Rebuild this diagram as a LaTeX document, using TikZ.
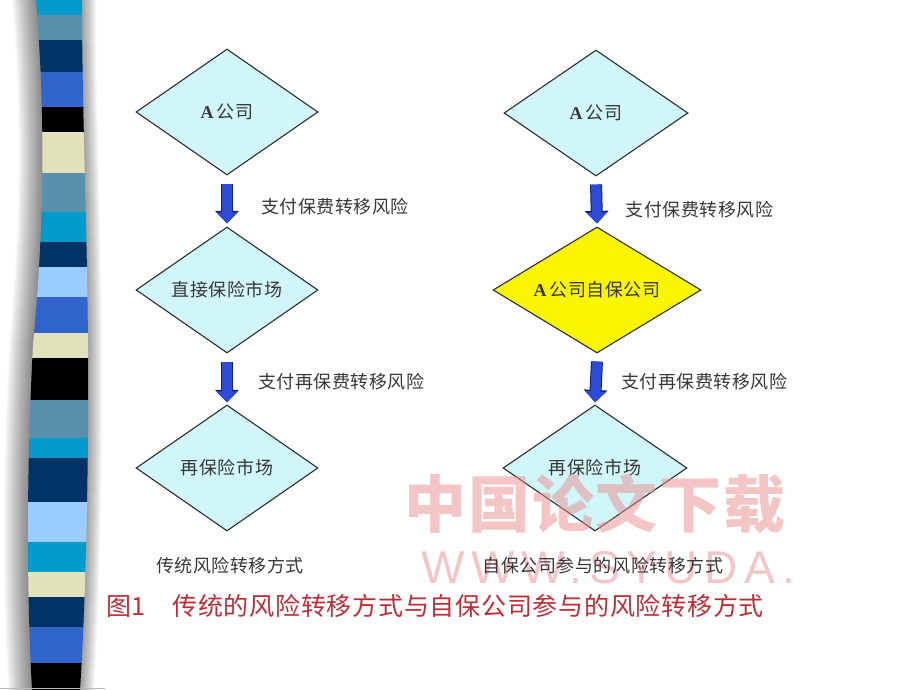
\documentclass[tikz,border=0pt]{standalone}
\usepackage{fontspec}
\setmainfont{Liberation Serif}
\newfontfamily\cjk{Noto Sans CJK SC}[LetterSpace=3]
\newfontfamily\wwwfont{Liberation Sans}[LetterSpace=15]
\usetikzlibrary{shapes.geometric, arrows.meta, positioning}

\definecolor{boxfill}{RGB}{208,246,250}
\definecolor{boxyellow}{RGB}{250,246,0}
\definecolor{boxline}{RGB}{45,45,45}
\definecolor{labelgray}{RGB}{55,55,55}
\definecolor{payblue}{RGB}{45,75,215}
\definecolor{paynavy}{RGB}{15,30,120}
\definecolor{capred}{RGB}{190,45,55}
\definecolor{wmpink}{RGB}{232,140,140}
\definecolor{bandcyan}{RGB}{0,155,205}
\definecolor{bandsteel}{RGB}{88,145,172}
\definecolor{bandnavy}{RGB}{0,52,102}
\definecolor{bandroyal}{RGB}{50,100,205}
\definecolor{bandbeige}{RGB}{225,225,188}
\definecolor{bandlight}{RGB}{153,204,255}

\newcommand{\stripeoutline}{(36,0) .. controls (45,110) and (45,220) .. (33,345) .. controls (27,460) and (26,580) .. (32,690) -- (80,690) .. controls (86,600) and (89,450) .. (88,345) .. controls (87,220) and (82,110) .. (82,0) -- cycle}

\begin{document}
\begin{tikzpicture}[x=1pt, y=-1pt,
    box/.style={diamond, draw=boxline, line width=1.1pt, fill=boxfill, aspect=1.5, inner sep=1pt,
        text=labelgray, font=\cjk\fontsize{18}{20}\selectfont},
    pay/.style={line width=10pt, draw=payblue, shorten <=1pt, -{Triangle[width=20pt,length=11pt]},
        preaction={draw=paynavy, line width=12pt, -{Triangle[width=23pt,length=12.5pt]}}},
    paylabel/.style={inner sep=0pt, text=labelgray, font=\cjk\fontsize{18}{20}\selectfont},
    watermark/.style={inner sep=0pt, text=wmpink, text opacity=0.5}]
        \useasboundingbox (0,0) rectangle (920,690);

        %stripe bar
        \foreach \d in {1,...,24} \fill[black, opacity=0.022, shift={(-\d,0)}] \stripeoutline;
        \foreach \d in {1,...,14} \fill[black, opacity=0.032, shift={(\d,0)}] \stripeoutline;
        \begin{scope}
            \clip \stripeoutline;
            \foreach \ya/\yb/\c in {0/15/bandcyan, 15/40/bandsteel, 40/72/bandnavy, 72/107/bandroyal,
                107/132/black, 132/173/bandbeige, 173/212/bandsteel, 212/242/bandcyan, 242/267/bandnavy,
                267/297/bandlight, 297/333/bandroyal, 333/358/bandbeige, 358/400/black, 400/438/bandsteel,
                438/458/bandcyan, 458/502/bandnavy, 502/542/bandlight, 542/572/bandcyan, 572/597/bandbeige,
                597/627/bandnavy, 627/663/bandroyal, 663/690/black}
                \fill[\c] (0,\ya) rectangle (100,\yb);
        \end{scope}
        \draw[gray!55, line width=1pt] (0,688) -- (105,688);

        %nodes
        \node[box, minimum width=182pt, minimum height=126pt] (ca) at (227,112) {\textrm{\textbf{A}}\,公司};
        \node[box, minimum width=182pt, minimum height=126pt] (cb) at (227,290) {直接保险市场};
        \node[box, minimum width=182pt, minimum height=126pt] (cc) at (227,468) {再保险市场};
        \node[box, minimum width=184pt, minimum height=126pt] (sa) at (596,113) {\textrm{\textbf{A}}\,公司};
        \node[box, fill=boxyellow, minimum width=208pt, minimum height=126pt] (sb) at (597,290) {\textrm{\textbf{A}}\,公司自保公司};
        \node[box, minimum width=184pt, minimum height=126pt] (sc) at (595,468) {再保险市场};

        %edges
        \draw[pay] ([yshift=-7pt]ca.south) -- ([yshift=3pt]cb.north) node[paylabel, pos=.6, right=29pt] (pa) {支付保费转移风险};
        \draw[pay] ([yshift=-7pt]cb.south) -- ([yshift=2pt]cc.north) node[paylabel, pos=.5, right=26pt] (pb) {支付再保费转移风险};
        \draw[pay] ([yshift=-7pt]sa.south) -- ([yshift=3pt]sb.north) node[paylabel, pos=.65, right=24pt] (pc) {支付保费转移风险};
        \draw[pay] ([yshift=-7pt]sb.south) -- ([yshift=2pt]sc.north) node[paylabel, pos=.5, right=20pt] (pd) {支付再保费转移风险};

        %watermark
        \node[watermark, font=\cjk\bfseries\fontsize{62}{64}\selectfont] (wmcn) at (595,504) {中国论文下载};
        \node[watermark, font=\wwwfont\fontsize{46}{48}\selectfont] (wmurl) at (608,568) {WWW.SYUDA.};

        %captions
        \node[paylabel] (capa) at (230,566) {传统风险转移方式};
        \node[paylabel] (capb) at (603,566) {自保公司参与的风险转移方式};
        \node[inner sep=0pt, anchor=west, text=capred, font=\cjk\fontsize{25}{27}\selectfont] (fig) at (106,606)
            {图1　传统的风险转移方式与自保公司参与的风险转移方式};
    \end{tikzpicture}
\end{document}
